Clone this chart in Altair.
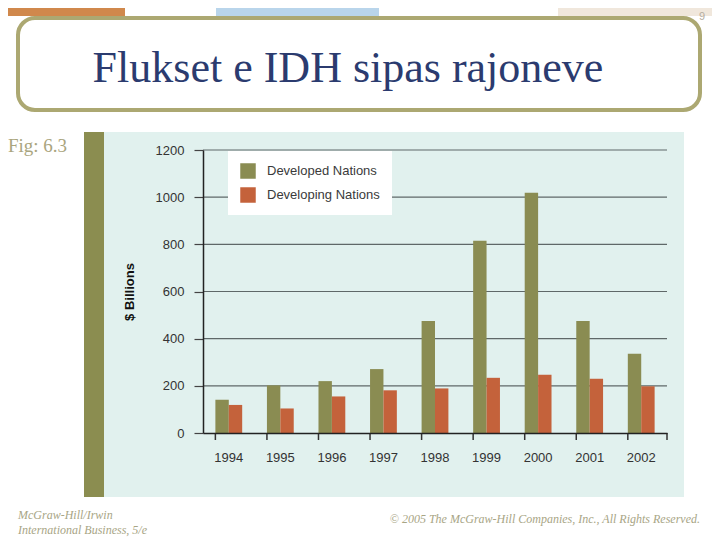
import altair as alt
import pandas as pd

# ---- data ----
years = ["1994", "1995", "1996", "1997", "1998", "1999", "2000", "2001", "2002"]
series = ["Developed Nations", "Developing Nations"]
developed = [141, 202, 220, 271, 475, 815, 1019, 475, 336]
developing = [119, 104, 155, 181, 189, 234, 247, 230, 198]
y_ticks = [0, 200, 400, 600, 800, 1000, 1200]
grid_vals = [200, 400, 600, 800, 1000, 1200]
bar_colors = ["#8a8c52", "#c4623b"]

title_text = "Flukset e IDH sipas rajoneve"
fig_label = "Fig: 6.3"
y_title = "$ Billions"
page_no = "9"
footer_left_1 = "McGraw-Hill/Irwin"
footer_left_2 = "International Business, 5/e"
footer_right = "\u00a9 2005 The McGraw-Hill Companies, Inc., All Rights Reserved."

rows = []
for i, yr in enumerate(years):
    rows.append({"year": yr, "series": series[0], "value": developed[i]})
    rows.append({"year": yr, "series": series[1], "value": developing[i]})
df = pd.DataFrame(rows)
grid_df = pd.DataFrame({"v": grid_vals})
year_df = pd.DataFrame({"year": years})
one = pd.DataFrame({"a": [0]})

W, H = 464, 283

x_axis = alt.Axis(labelAngle=0, ticks=False, domain=True, domainColor="#222222",
                  domainWidth=1.5, labelFont="Liberation Sans", labelFontSize=13,
                  labelColor="#333333", labelPadding=18, title=None, zindex=1)
y_axis = alt.Axis(values=y_ticks, format="d", grid=False, domain=True, domainColor="#222222",
                  domainWidth=1.5, ticks=True, tickSize=9, tickColor="#444444",
                  tickWidth=1.2, labelFont="Liberation Sans", labelFontSize=13,
                  labelColor="#333333", labelPadding=10, title=None, zindex=1)
x_scale = alt.Scale(domain=years, paddingInner=0.48, paddingOuter=0.24)
y_scale = alt.Scale(domain=[0, 1200], nice=False)


def rect(x, x2, y, y2, **kw):
    return alt.Chart(one).mark_rect(**kw).encode(
        x=alt.value(x), x2=alt.value(x2), y=alt.value(y), y2=alt.value(y2))


def text(t, x, y, **kw):
    return alt.Chart(one).mark_text(text=t, **kw).encode(x=alt.value(x), y=alt.value(y))


# decorations (plot origin at page 203,150)
strip1 = rect(-203, -78, -142, -134, color="#d0884c")
strip2 = rect(13, 176, -142, -134, color="#b9d5eb")
strip3 = rect(355, 520, -142, -134, color="#f0e7dc")
title_box = rect(-185, 497, -132, -40, fill="white", stroke="#aca872",
                 strokeWidth=4, cornerRadius=17)
panel = rect(-119, 481, -18, 347, color="#e1f1ee")
olive_bar = rect(-119, -99, -18, 347, color="#8b8d50")

grid = alt.Chart(grid_df).mark_rule(color="#5f6868", strokeWidth=1.2).encode(
    y=alt.Y("v:Q", scale=y_scale, axis=y_axis),
    x=alt.value(0), x2=alt.value(W))

bars = alt.Chart(df).mark_bar().encode(
    x=alt.X("year:N", scale=x_scale, axis=x_axis, sort=years),
    xOffset=alt.XOffset("series:N", sort=series,
                        scale=alt.Scale(domain=series, paddingInner=0, paddingOuter=0)),
    y=alt.Y("value:Q", scale=y_scale, axis=y_axis, stack=None),
    color=alt.Color("series:N", scale=alt.Scale(domain=series, range=bar_colors),
                    legend=alt.Legend(title=None, orient="none", legendX=25, legendY=1,
                                      fillColor="white", padding=12,
                                      symbolType="square", symbolSize=240,
                                      symbolStrokeWidth=0, symbolOpacity=1,
                                      labelFont="Liberation Sans", labelFontSize=13,
                                      labelColor="#3a3a3a", labelOffset=11,
                                      rowPadding=8)),
)

x_ticks = alt.Chart(year_df).mark_rule(color="#333333", strokeWidth=1.5).encode(
    x=alt.X("year:N", scale=x_scale, axis=x_axis, sort=years, bandPosition=0),
    y=alt.value(H), y2=alt.value(H + 7))
last_tick = alt.Chart(one).mark_rule(color="#333333", strokeWidth=1.5).encode(
    x=alt.value(W), y=alt.value(H), y2=alt.value(H + 7))

ytitle = text(y_title, -73, 142, angle=270, align="center", baseline="middle",
              font="Liberation Sans", fontSize=13, fontWeight="bold", color="#111111")
title = text(title_text, 145, -68, align="center", baseline="alphabetic",
             font="Liberation Serif", fontSize=44, color="#2b3b6f")
pnum = text(page_no, 502, -130, align="right", baseline="alphabetic",
            font="Liberation Sans", fontSize=11, color="#b5ad9f")
fig = text(fig_label, -195, 2, align="left", baseline="alphabetic",
           font="Liberation Serif", fontSize=19, color="#aaa57e")
f1 = text(footer_left_1, -185, 369, align="left", baseline="alphabetic",
          font="Liberation Serif", fontSize=12, fontStyle="italic", color="#a8a585")
f2 = text(footer_left_2, -185, 384, align="left", baseline="alphabetic",
          font="Liberation Serif", fontSize=12, fontStyle="italic", color="#a8a585")
f3 = text(footer_right, 497, 373, align="right", baseline="alphabetic",
          font="Liberation Serif", fontSize=12, fontStyle="italic", color="#a8a585")

chart = alt.layer(
    strip1, strip2, strip3, title_box, panel, olive_bar, grid, bars, x_ticks, last_tick,
    ytitle, title, pnum, fig, f1, f2, f3
).properties(
    width=W, height=H,
    padding={"left": 195, "top": 142, "right": 45, "bottom": 105},
    autosize=alt.AutoSizeParams(type="none"),
    background="white",
).configure_view(stroke=None)

chart.save("out.html", embed_options={"renderer": "svg", "actions": False})
